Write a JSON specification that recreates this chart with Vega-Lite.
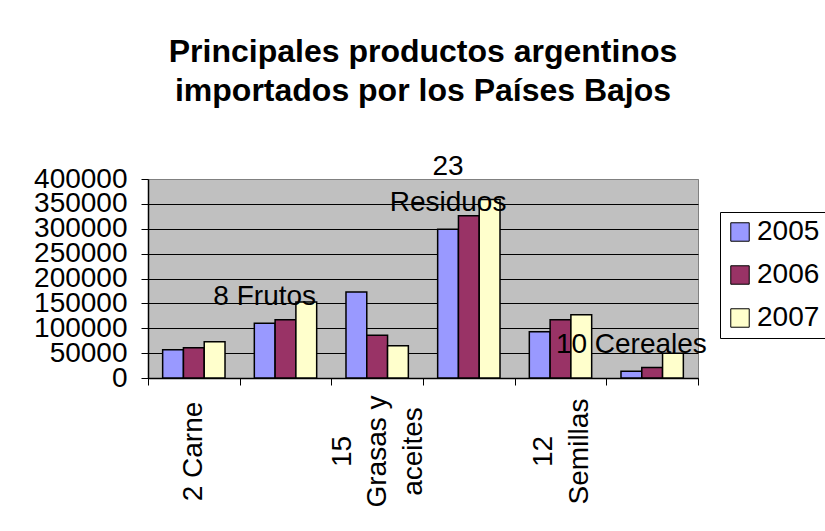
{
  "$schema": "https://vega.github.io/schema/vega-lite/v6.json",
  "autosize": "none",
  "width": 550,
  "height": 199,
  "padding": {"left": 148, "top": 179, "right": 127, "bottom": 153},
  "background": "white",
  "title": {
    "text": ["Principales productos argentinos", "importados por los Países Bajos"],
    "font": "Liberation Sans",
    "fontSize": 32,
    "fontWeight": "bold",
    "lineHeight": 39,
    "color": "black",
    "frame": "group",
    "anchor": "middle",
    "baseline": "bottom",
    "offset": 13
  },
  "datasets": {
    "bars": [
      {"cat": "2 Carne", "year": "2005", "value": 57000},
      {"cat": "2 Carne", "year": "2006", "value": 61000},
      {"cat": "2 Carne", "year": "2007", "value": 73000},
      {"cat": "8 Frutos", "year": "2005", "value": 110000},
      {"cat": "8 Frutos", "year": "2006", "value": 117000},
      {"cat": "8 Frutos", "year": "2007", "value": 153000},
      {"cat": "15 Grasas y aceites", "year": "2005", "value": 173000},
      {"cat": "15 Grasas y aceites", "year": "2006", "value": 86000},
      {"cat": "15 Grasas y aceites", "year": "2007", "value": 65000},
      {"cat": "23 Residuos", "year": "2005", "value": 299000},
      {"cat": "23 Residuos", "year": "2006", "value": 326000},
      {"cat": "23 Residuos", "year": "2007", "value": 359000},
      {"cat": "12 Semillas", "year": "2005", "value": 93000},
      {"cat": "12 Semillas", "year": "2006", "value": 117000},
      {"cat": "12 Semillas", "year": "2007", "value": 127000},
      {"cat": "10 Cereales", "year": "2005", "value": 13500},
      {"cat": "10 Cereales", "year": "2006", "value": 21000},
      {"cat": "10 Cereales", "year": "2007", "value": 50000}
    ],
    "labels": [
      {"cat": "8 Frutos", "year": "2005", "value": 110000, "label": "8 Frutos"},
      {"cat": "10 Cereales", "year": "2005", "value": 13500, "label": "10 Cereales"}
    ],
    "labels2": [
      {"cat": "23 Residuos", "year": "2005", "value": 299000, "label": "23\nResiduos"}
    ]
  },
  "encoding": {
    "x": {
      "field": "cat",
      "type": "nominal",
      "sort": ["2 Carne", "8 Frutos", "15 Grasas y aceites", "23 Residuos", "12 Semillas", "10 Cereales"],
      "scale": {"paddingInner": 0, "paddingOuter": 0},
      "axis": {
        "title": null,
        "labelAngle": -90,
        "labelAlign": "center",
        "labelBaseline": "middle",
        "labelPadding": 66,
        "labelOffset": {
          "condition": [
            {"test": "datum.value == '15 Grasas y aceites'", "value": -35},
            {"test": "datum.value == '12 Semillas'", "value": -17}
          ],
          "value": 0
        },
        "labelFont": "Liberation Sans",
        "labelFontSize": 28,
        "labelLineHeight": 35.5,
        "labelColor": "black",
        "labelOverlap": false,
        "labelExpr": "datum.value == '2 Carne' ? '2 Carne' : datum.value == '15 Grasas y aceites' ? ['15', 'Grasas y', 'aceites'] : datum.value == '12 Semillas' ? ['12', 'Semillas'] : ''",
        "tickBand": "extent",
        "tickSize": 7,
        "tickColor": "black",
        "domainColor": "black",
        "domainWidth": 1.5,
        "grid": false
      }
    },
    "xOffset": {
      "field": "year",
      "type": "nominal",
      "scale": {"domain": ["2005", "2006", "2007"], "paddingInner": 0, "paddingOuter": 0.705}
    },
    "y": {
      "field": "value",
      "type": "quantitative",
      "scale": {"domain": [0, 400000], "nice": false},
      "axis": {
        "title": null,
        "values": [0, 50000, 100000, 150000, 200000, 250000, 300000, 350000, 400000],
        "format": "d",
        "labelFont": "Liberation Sans",
        "labelFontSize": 28,
        "labelColor": "black",
        "labelPadding": 14,
        "labelOverlap": false,
        "labelBaseline": "middle",
        "tickSize": 7,
        "tickColor": "black",
        "domainColor": "black",
        "domainWidth": 1.5,
        "grid": true,
        "gridColor": {
          "condition": {"test": "datum.value == 400000", "value": "#808080"},
          "value": "black"
        },
        "gridWidth": 1
      }
    }
  },
  "layer": [
    {
      "data": {"name": "bars"},
      "mark": {"type": "bar", "stroke": "black", "strokeWidth": 1.5},
      "encoding": {
        "color": {
          "field": "year",
          "type": "nominal",
          "scale": {"domain": ["2005", "2006", "2007"], "range": ["#9999FF", "#993366", "#FFFFCC"]},
          "legend": {
            "title": null,
            "orient": "none",
            "legendX": 572,
            "legendY": 33,
            "direction": "vertical",
            "strokeColor": "black",
            "fillColor": "white",
            "padding": 6,
            "symbolType": "square",
            "symbolSize": 340,
            "symbolStrokeColor": "black",
            "symbolStrokeWidth": 1,
            "symbolOpacity": 1,
            "labelFont": "Liberation Sans",
            "labelFontSize": 28,
            "labelColor": "black",
            "labelOffset": 3,
            "rowPadding": 15
          }
        }
      }
    },
    {
      "data": {"name": "labels"},
      "mark": {
        "type": "text",
        "font": "Liberation Sans",
        "fontSize": 28,
        "color": "black",
        "align": "center",
        "baseline": "bottom",
        "dy": -12
      },
      "encoding": {
        "text": {"field": "label", "type": "nominal"}
      }
    },
    {
      "data": {"name": "labels2"},
      "mark": {
        "type": "text",
        "font": "Liberation Sans",
        "fontSize": 28,
        "color": "black",
        "align": "center",
        "baseline": "bottom",
        "lineBreak": "\n",
        "lineHeight": 36,
        "dy": -48
      },
      "encoding": {
        "text": {"field": "label", "type": "nominal"}
      }
    }
  ],
  "config": {
    "view": {"fill": "#C0C0C0", "stroke": "#808080", "strokeWidth": 1}
  }
}
